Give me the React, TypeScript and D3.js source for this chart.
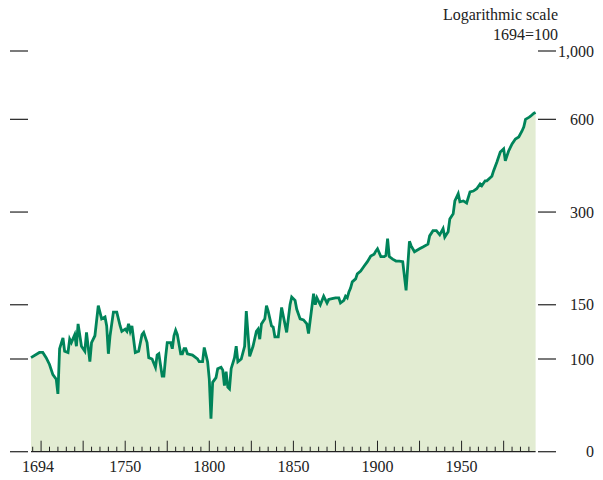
import React from 'react';
import * as d3 from 'd3';

const width = 603;
const height = 480;

// index, 1694 = 100
const years = [
  1694, 1699, 1701, 1703, 1705, 1707, 1709, 1710, 1711, 1713, 1714, 1716, 1717, 1718, 1720, 1721, 1722, 1724, 1726, 1727,
  1729, 1730, 1732, 1734, 1736, 1738, 1739, 1740, 1741, 1743, 1745, 1747, 1748, 1750, 1751, 1752, 1753, 1754, 1756, 1758,
  1760, 1761, 1763, 1764, 1766, 1768, 1769, 1770, 1772, 1773, 1774, 1775, 1777, 1778, 1779, 1780, 1781, 1783, 1784, 1785,
  1786, 1787, 1790, 1793, 1794, 1796, 1797, 1799, 1800, 1801, 1802, 1804, 1805, 1807, 1808, 1809, 1810, 1811, 1812, 1813,
  1815, 1816, 1817, 1819, 1821, 1822, 1824, 1826, 1828, 1829, 1830, 1831, 1833, 1834, 1835, 1837, 1838, 1839, 1841, 1843,
  1844, 1846, 1848, 1849, 1851, 1852, 1854, 1856, 1858, 1859, 1862, 1863, 1864, 1866, 1867, 1868, 1870, 1871, 1873, 1875,
  1877, 1878, 1880, 1881, 1882, 1883, 1884, 1885, 1887, 1888, 1890, 1892, 1894, 1896, 1898, 1899, 1900, 1902, 1904, 1905,
  1906, 1907, 1909, 1911, 1913, 1915, 1917, 1919, 1920, 1922, 1925, 1927, 1930, 1931, 1933, 1935, 1937, 1939, 1940, 1942,
  1943, 1945, 1946, 1948, 1949, 1951, 1953, 1955, 1957, 1959, 1961, 1962, 1964, 1965, 1968, 1969, 1971, 1973, 1975, 1976,
  1978, 1980, 1982, 1984, 1986, 1987, 1988, 1990, 1991, 1993, 1994,
];
const index = [
  101, 105, 105, 101, 96, 89, 86, 77, 108, 117, 106, 105, 116, 113, 120, 110, 130, 110, 106, 122,
  98, 113, 119, 149, 135, 137, 128, 104, 119, 142, 142, 128, 123, 125, 123, 130, 123, 128, 105, 106,
  120, 122, 113, 101, 100, 94, 103, 104, 88, 88, 101, 113, 113, 108, 119, 124, 120, 104, 104, 108,
  108, 104, 103, 100, 98, 98, 109, 98, 86, 64, 84, 87, 93, 94, 92, 82, 91, 81, 80, 93,
  101, 110, 98, 100, 110, 143, 102, 110, 123, 125, 116, 130, 135, 149, 143, 128, 127, 118, 118, 147,
  138, 122, 150, 159, 155, 145, 135, 134, 130, 121, 163, 150, 158, 150, 155, 160, 152, 156, 157, 158,
  158, 152, 155, 160, 158, 165, 170, 178, 182, 189, 193, 200, 207, 216, 219, 224, 228, 215, 215, 217,
  246, 215, 211, 208, 208, 207, 167, 241, 233, 223, 228, 231, 236, 251, 261, 261, 253, 265, 249, 259,
  285, 296, 326, 344, 324, 326, 321, 349, 351, 357, 370, 365, 379, 379, 392, 408, 436, 470, 481, 440,
  474, 499, 518, 526, 551, 567, 600, 609, 614, 628, 632,
];

const yTicks = [1000, 600, 300, 150, 100];
const yTickLabels = ['1,000', '600', '300', '150', '100'];
const baseValue = 50; // bottom of the chart, labelled "0"
const xLabels = [1694, 1750, 1800, 1850, 1900, 1950];

const lineColor = '#00845a';
const fillColor = '#e2ecd2';

export default function App() {
  const data = years.map((yr, i) => ({ yr, v: index[i] }));

  const x = d3.scaleLinear().domain([1694, 1994]).range([31, 535.6]);
  const y = d3.scaleLog().domain([100, 1000]).range([359, 51]);
  const yBase = y(baseValue);

  const area = d3.area<{ yr: number; v: number }>()
    .x(d => x(d.yr))
    .y0(yBase)
    .y1(d => y(d.v));
  const line = d3.line<{ yr: number; v: number }>()
    .x(d => x(d.yr))
    .y(d => y(d.v));

  const minorTicks = d3.range(1695, 1994, 5);

  return (
    <svg width={width} height={height} style={{ position: 'absolute', left: 0, top: 0 }}
      fontFamily="'Liberation Serif', 'Times New Roman', serif" fontSize={16}>
      <path d={area(data) || ''} fill={fillColor} />
      <path d={line(data) || ''} fill="none" stroke={lineColor} strokeWidth={2.8} />

      {/* horizontal tick dashes at both sides */}
      {[...yTicks, baseValue].map(t => (
        <g key={t}>
          <line x1={10} x2={28} y1={y(t)} y2={y(t)} stroke="#222" strokeWidth={1.2} />
          <line x1={538} x2={556} y1={y(t)} y2={y(t)} stroke="#222" strokeWidth={1.2} />
        </g>
      ))}
      {yTicks.map((t, i) => (
        <text key={t} x={594} y={y(t)} dy="0.35em" textAnchor="end" fill="#222">{yTickLabels[i]}</text>
      ))}
      <text x={594} y={yBase} dy="0.35em" textAnchor="end" fill="#222">0</text>

      {/* time axis */}
      <line x1={x(1694)} x2={x(1994)} y1={yBase} y2={yBase} stroke="#222" strokeWidth={1.2} />
      {minorTicks.map(t => (
        <line key={t} x1={x(t)} x2={x(t)} y1={yBase} y2={yBase - (t % 25 === 0 ? 11 : 5)}
          stroke="#222" strokeWidth={1} />
      ))}
      {xLabels.map((t, i) => (
        <text key={t} x={x(t) + (i === 0 ? 7 : 0)} y={472} textAnchor="middle" fill="#222">{t}</text>
      ))}

      <text x={558} y={20} textAnchor="end" fill="#222">Logarithmic scale</text>
      <text x={558} y={40} textAnchor="end" fill="#222">1694=100</text>
    </svg>
  );
}
